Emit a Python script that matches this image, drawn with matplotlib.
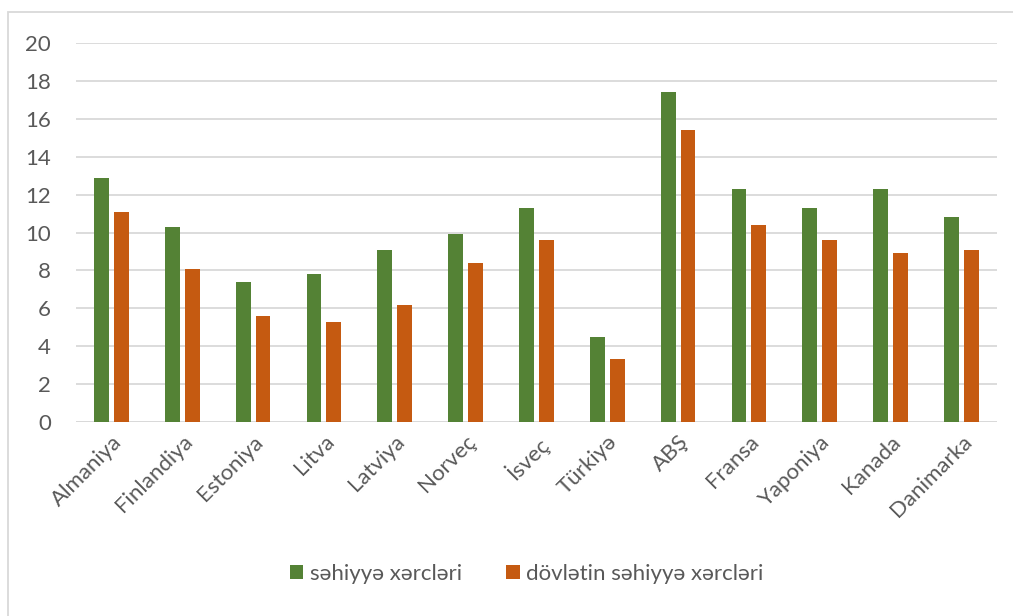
import matplotlib
matplotlib.use("Agg")
import matplotlib.pyplot as plt
import numpy as np
from matplotlib.patches import Rectangle

plt.rcParams['font.family'] = ['Lato', 'DejaVu Sans']

countries = ["Almaniya", "Finlandiya", "Estoniya", "Litva", "Latviya", "Norveç",
             "İsveç", "Türkiyə", "ABŞ", "Fransa", "Yaponiya", "Kanada", "Danimarka"]
total = [12.9, 10.3, 7.4, 7.8, 9.1, 9.9, 11.3, 4.5, 17.4, 12.3, 11.3, 12.3, 10.8]
state = [11.1, 8.1, 5.6, 5.3, 6.2, 8.4, 9.6, 3.3, 15.4, 10.4, 9.6, 8.9, 9.1]
yticks = list(range(0, 21, 2))

green = '#548235'
orange = '#c55a11'
txt = '#595959'

fig = plt.figure(figsize=(10.13, 6.16), dpi=100)
ax = fig.add_axes([0.075, 0.315, 0.909, 0.615])

x = np.arange(len(countries))
w = 0.21
ax.bar(x - 0.14, total, w, color=green, label='səhiyyə xərcləri', zorder=3)
ax.bar(x + 0.14, state, w, color=orange, label='dövlətin səhiyyə xərcləri', zorder=3)

ax.set_xlim(-0.5, len(countries) - 0.5)
ax.set_ylim(0, 20)
ax.set_yticks(yticks)
ax.yaxis.grid(True, color='#d9d9d9', linewidth=1.3, zorder=0)
for s in ['top', 'right', 'left', 'bottom']:
    ax.spines[s].set_visible(False)
ax.axhline(0, color='#d9d9d9', linewidth=1.3, zorder=2)
ax.tick_params(axis='both', length=0, labelsize=16, colors=txt)
ax.tick_params(axis='y', pad=18)
ax.tick_params(axis='x', pad=7)
ax.set_xticks(x)
ax.set_xticklabels(countries, rotation=45, ha='right', rotation_mode='anchor')

fig.legend(loc='lower center', bbox_to_anchor=(0.52, 0.02), ncol=2, frameon=False,
           fontsize=16, labelcolor=txt, handlelength=0.6, handleheight=0.6,
           handletextpad=0.3, columnspacing=2.0)

fig.patches.append(Rectangle((8 / 1013, -0.1), 1.1, 1.1 - 12 / 616,
                             transform=fig.transFigure, fill=False,
                             edgecolor='#d9d9d9', linewidth=1.3))

fig.savefig('out.png', dpi=100)
